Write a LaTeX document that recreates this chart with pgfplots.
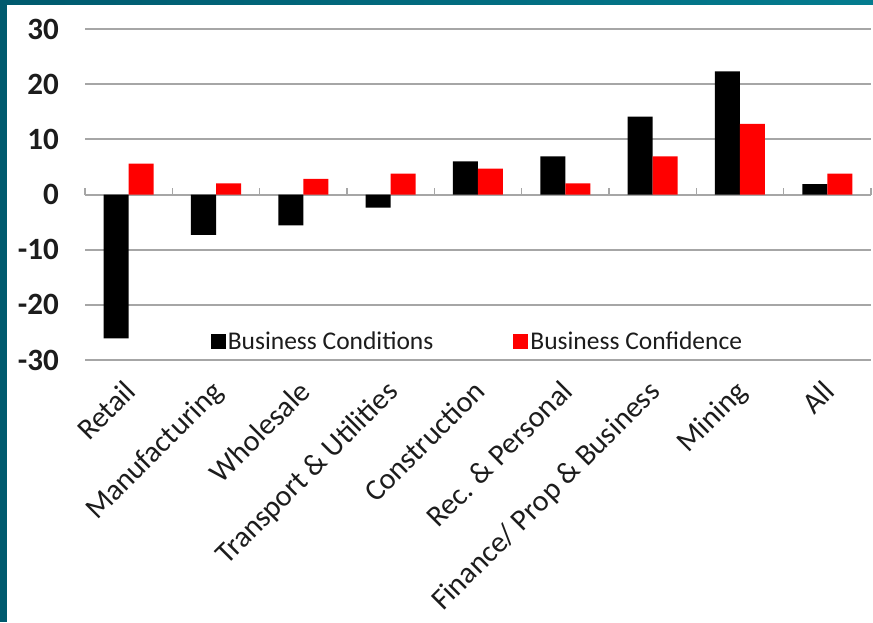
\documentclass[border=0pt]{standalone}
\usepackage{fontspec}
\setmainfont{Carlito}
\usepackage{pgfplots}
\pgfplotsset{compat=1.18}
\definecolor{frameL}{HTML}{005A6E}
\definecolor{frameR}{HTML}{047C8F}
\definecolor{gridgray}{HTML}{A6A6A6}
\definecolor{txt}{HTML}{1C1C1C}
\begin{document}
\begin{tikzpicture}[x=1pt,y=1pt]
\useasboundingbox (0,0) rectangle (873,622);
\fill[frameL] (0,0) rectangle (873,622);
\shade[left color=frameL, right color=frameR] (0,617) rectangle (873,622);
\fill[white] (7,0) rectangle (873,617);
\begin{axis}[
  at={(85pt,262pt)}, anchor=south west, scale only axis,
  width=786pt, height=331pt,
  ymin=-30, ymax=30, xmin=-0.5, xmax=8.5,
  ybar=0pt, bar width=25pt,
  axis x line*=middle, axis y line*=left,
  hide obscured x ticks=false, hide obscured y ticks=false,
  x axis line style={-, draw=gridgray, line width=2pt},
  y axis line style={draw=none},
  ytick={-30,-20,-10,0,10,20,30},
  yticklabels={-30,-20,-10,0,10,20,30},
  ytick style={draw=none},
  ymajorgrids, grid style={gridgray, line width=2pt},
  yticklabel style={font=\fontsize{31}{31}\selectfont\bfseries, text=txt, anchor=east, inner sep=0pt, xshift=-26pt},
  xtick={0,...,8},
  xticklabels={Retail,Manufacturing,Wholesale,Transport \& Utilities,Construction,Rec. \& Personal,Finance/ Prop \& Business,Mining,All},
  major x tick style={draw=none},
  minor xtick={-0.5,0.5,...,8.5},
  minor x tick style={gridgray, line width=1.5pt},
  minor tick length=7pt,
  xtick align=inside,
  xticklabel style={font=\fontsize{30}{30}\selectfont, text=txt, anchor=north east, inner sep=0pt, xshift=-6pt, yshift=-184pt, rotate=45},
  legend columns=2,
  legend style={at={(rel axis cs:0.156,0.057)}, anchor=west, draw=none, fill=none,
    font=\fontsize{25.5}{25.5}\selectfont, text=txt,
    /tikz/every even column/.append style={column sep=78pt},
    nodes={inner sep=2pt}},
  legend cell align=left,
]
\addplot[fill=black, draw=none, legend image code/.code={\fill[black] (0pt,-7.5pt) rectangle (15pt,7.5pt);}]
 coordinates {(0,-26.1) (1,-7.3) (2,-5.6) (3,-2.4) (4,6.0) (5,6.9) (6,14.1) (7,22.3) (8,1.9)};
\addlegendentry{Business Conditions}
\addplot[fill=red, draw=none, legend image code/.code={\fill[red] (0pt,-7.5pt) rectangle (15pt,7.5pt);}]
 coordinates {(0,5.6) (1,2.0) (2,2.85) (3,3.8) (4,4.7) (5,2.0) (6,6.9) (7,12.8) (8,3.8)};
\addlegendentry{Business Confidence}
\end{axis}
\end{tikzpicture}
\end{document}
